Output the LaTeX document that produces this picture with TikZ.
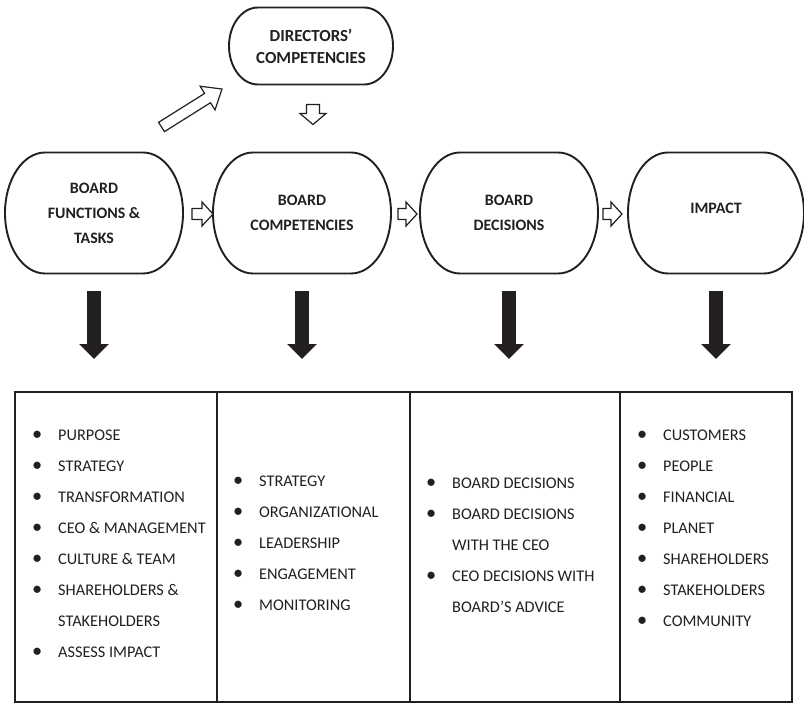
\documentclass[tikz,border=0pt]{standalone}
\usepackage{fontspec}
\setmainfont{Carlito}
\usetikzlibrary{arrows.meta}
\usetikzlibrary{calc}
\usetikzlibrary{positioning}

\definecolor{ink}{HTML}{231F20}

% stadium outline round a node: name, end radius, half height
\newcommand{\stadium}[3]{%
  \draw[outline] let \p1=(#1.north east), \p2=(#1.south west) in
    (\x2+#2,\y1) -- (\x1-#2,\y1)
    arc[start angle=90, end angle=-90, x radius=#2, y radius=#3]
    -- (\x2+#2,\y2)
    arc[start angle=270, end angle=90, x radius=#2, y radius=#3] -- cycle;
}

% hollow block arrow: from, to, shaft half width, head half width, head length
\newcommand{\blockarrow}[5]{%
  \path let \p1=($(#2)-(#1)$) in
    \pgfextra{\pgfmathparse{atan2(\y1,\x1)}\xdef\arrang{\pgfmathresult}%
              \pgfmathparse{veclen(\x1,\y1)}\xdef\arrlen{\pgfmathresult}};
  \begin{scope}[shift={(#1)}, rotate=\arrang]
    \draw[hollow] (0pt,-#3) -- (\arrlen pt-#5,-#3) -- (\arrlen pt-#5,-#4)
      -- (\arrlen pt,0pt) -- (\arrlen pt-#5,#4) -- (\arrlen pt-#5,#3)
      -- (0pt,#3) -- cycle;
  \end{scope}
}

\newcommand{\bul}{\makebox[26pt][l]{\scalebox{1.25}{\textbullet}}}
\newcommand{\cont}{\hspace*{26pt}}

\begin{document}
\begin{tikzpicture}[x=1pt, y=-1pt, >=stealth,
  outline/.style={draw=ink, line width=1.9pt},
  hollow/.style={draw=ink, fill=white, line width=1.2pt, line join=miter},
  stage/.style={minimum width=178pt, minimum height=121pt, inner sep=0pt,
    outer sep=0pt, align=center, text=ink,
    font=\bfseries\fontsize{15.9}{25}\selectfont},
  cell/.style={draw=ink, line width=2.6pt, anchor=north west,
    minimum height=310pt, inner sep=0pt, outer sep=0pt},
  items/.style={anchor=base west, inner sep=0pt, text=ink,
    font=\fontsize{16.3}{31}\selectfont},
  bigarrow/.style={draw=ink, line width=14pt,
    -{Triangle[length=15pt, width=29pt]}, shorten <=17pt, shorten >=33pt}]

\useasboundingbox (0,0) rectangle (804,704);

% Stages
\node[stage, minimum width=164pt, minimum height=77pt,
  font=\bfseries\fontsize{16.9}{22}\selectfont] (dirs) at (311,46)
  {DIRECTORS’\\COMPETENCIES};
\node[stage] (funcs) at (94,213) {BOARD\\FUNCTIONS \&\\TASKS};
\node[stage] (comps) at (302,213) {BOARD\\COMPETENCIES};
\node[stage] (decs) at (509,213) {BOARD\\DECISIONS};
\node[stage, minimum width=176pt, text height=0pt, text depth=0pt]
  (impact) at (716,213) {IMPACT};

\foreach \s in {funcs, comps, decs, impact}
  \stadium{\s}{40pt}{60.5pt};
\stadium{dirs}{29pt}{38.5pt};

% Hollow arrows
\coordinate (a1) at ($(funcs.east)+(9,1)$);
\coordinate (b1) at ($(comps.west)+(0,1)$);
\coordinate (a2) at ($(comps.east)+(7,1)$);
\coordinate (b2) at ($(decs.west)+(-3,1)$);
\coordinate (a3) at ($(decs.east)+(5,1)$);
\coordinate (b3) at ($(impact.west)+(-6,1)$);
\blockarrow{a1}{b1}{5.5pt}{12pt}{11pt}
\blockarrow{a2}{b2}{5.5pt}{12pt}{11pt}
\blockarrow{a3}{b3}{5.5pt}{12pt}{11pt}

\coordinate (dtop) at ($(dirs.south)+(2,20)$);
\coordinate (dbot) at ($(dtop)+(0,20)$);
\blockarrow{dtop}{dbot}{6.5pt}{13pt}{11pt}

\coordinate (utail) at (161.5,127);
\coordinate (uhead) at (222,89);
\blockarrow{utail}{uhead}{5.5pt}{14pt}{17pt}

% Table
\node[cell, minimum width=202pt] (colA) at (15,392) {};
\node[cell, minimum width=193pt] (colB) at (colA.north east) {};
\node[cell, minimum width=210pt] (colC) at (colB.north east) {};
\node[cell, minimum width=172pt] (colD) at (colC.north east) {};

% Black arrows
\foreach \s/\c in {funcs/colA, comps/colB, decs/colC, impact/colD}
  \draw[bigarrow] (\s.south) -- (\s.south |- \c.north);

% Lists
\node[items] (listA) at (32,440) {\begin{tabular}[t]{@{}l@{}}
  \bul PURPOSE\\
  \bul STRATEGY\\
  \bul TRANSFORMATION\\
  \bul CEO \& MANAGEMENT\\
  \bul CULTURE \& TEAM\\
  \bul SHAREHOLDERS \&\\
  \cont STAKEHOLDERS\\
  \bul ASSESS IMPACT
\end{tabular}};
\node[items] (listB) at (233,486) {\begin{tabular}[t]{@{}l@{}}
  \bul STRATEGY\\
  \bul ORGANIZATIONAL\\
  \bul LEADERSHIP\\
  \bul ENGAGEMENT\\
  \bul MONITORING
\end{tabular}};
\node[items] (listC) at (426,488) {\begin{tabular}[t]{@{}l@{}}
  \bul BOARD DECISIONS\\
  \bul BOARD DECISIONS\\
  \cont WITH THE CEO\\
  \bul CEO DECISIONS WITH\\
  \cont BOARD’S ADVICE
\end{tabular}};
\node[items] (listD) at (637,440) {\begin{tabular}[t]{@{}l@{}}
  \bul CUSTOMERS\\
  \bul PEOPLE\\
  \bul FINANCIAL\\
  \bul PLANET\\
  \bul SHAREHOLDERS\\
  \bul STAKEHOLDERS\\
  \bul COMMUNITY
\end{tabular}};

\end{tikzpicture}
\end{document}
